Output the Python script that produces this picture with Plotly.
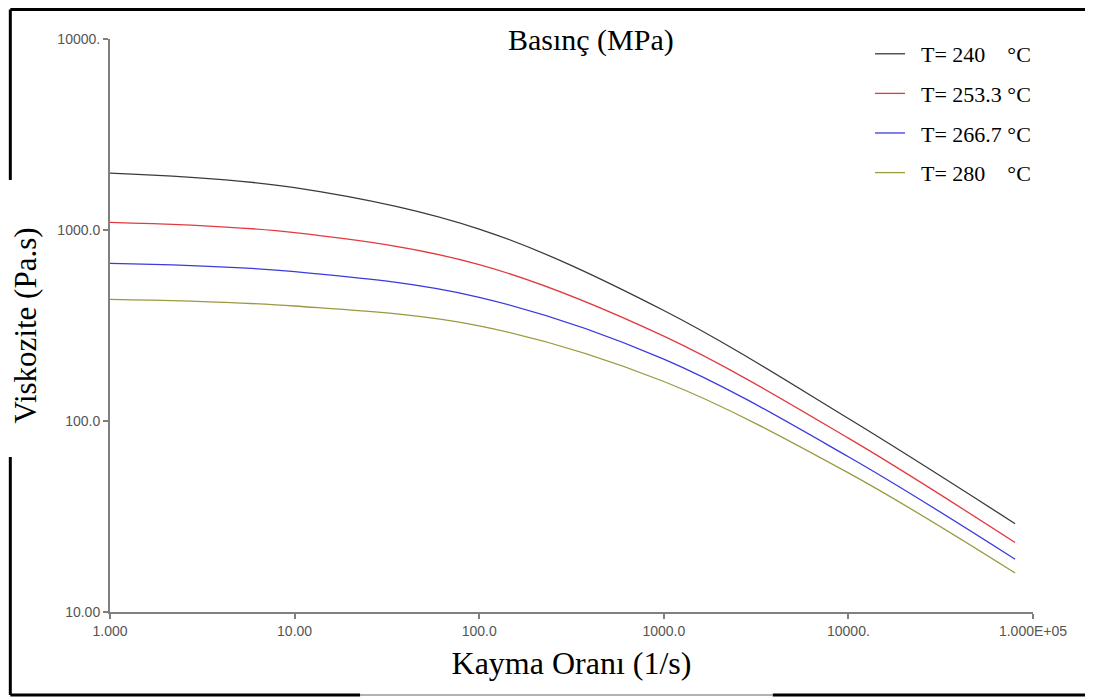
import plotly.graph_objects as go

# Shear rate (1/s)
shear_rate = [1, 10, 100, 1000, 10000, 80000]

# Viscosity (Pa.s) per temperature
visc_240 = [1985, 1668, 1012, 379, 103, 29.0]
visc_253 = [1097, 969, 659, 278, 81.3, 23.1]
visc_267 = [669, 606, 444, 211, 65.0, 18.9]
visc_280 = [433, 400, 315, 161, 53.5, 16.0]

nb = "\u00a0"
series_names = [nb * 2 + "T= 240" + nb * 4 + "°C", nb * 2 + "T= 253.3 °C",
                nb * 2 + "T= 266.7 °C", nb * 2 + "T= 280" + nb * 4 + "°C"]
series_vals = [visc_240, visc_253, visc_267, visc_280]
series_colors = ["#3a3a3a", "#e23a3f", "#3a3ae0", "#9a9a40"]

x_tickvals = [1, 10, 100, 1000, 10000, 100000]
x_ticktext = ["1.000", "10.00", "100.0", "1000.0", "10000.", "1.000E+05"]
y_tickvals = [10, 100, 1000, 10000]
y_ticktext = ["10.00", "100.0", "1000.0", "10000."]

serif = "Liberation Serif, Times New Roman, serif"

fig = go.Figure()
for i, (name, vals, col) in enumerate(zip(series_names, series_vals, series_colors)):
    fig.add_trace(go.Scatter(
        x=shear_rate, y=vals, mode="lines", name=name,
        line=dict(color=col, width=1.3, shape="spline", smoothing=1.0),
        legendgroup=f"g{i}",
    ))

axis_common = dict(
    type="log", showgrid=False, zeroline=False, automargin=False,
    showline=True, linecolor="#808080", linewidth=2,
    ticks="outside", ticklen=5, tickcolor="#808080", tickwidth=1.5,
    tickfont=dict(family="Liberation Sans, Arial, sans-serif", size=14, color="#555555"),
    mirror=False,
)

fig.update_layout(
    width=1085, height=689,
    paper_bgcolor="white", plot_bgcolor="white",
    margin=dict(l=102, r=60, t=31, b=85, autoexpand=False),
    title=dict(text="Basınç (MPa)", x=0.521, xref="paper", xanchor="center",
               y=0.9536, yanchor="middle",
               font=dict(family=serif, size=30, color="black")),
    xaxis=dict(**axis_common, range=[0, 5], tickvals=x_tickvals, ticktext=x_ticktext,
               title=dict(text="Kayma Oranı (1/s)", standoff=14,
                          font=dict(family=serif, size=32, color="black"))),
    yaxis=dict(**axis_common, range=[1, 4], tickvals=y_tickvals, ticktext=y_ticktext,
               title=dict(text="Viskozite (Pa.s)", standoff=22,
                          font=dict(family=serif, size=31, color="black"))),
    legend=dict(x=0.8234, y=1.0105, xanchor="left", yanchor="top", bgcolor="rgba(0,0,0,0)",
                font=dict(family=serif, size=22, color="black"),
                tracegroupgap=8),
    showlegend=True,
)

# outer frame lines (paper coordinates)
frame = dict(type="line", xref="paper", yref="paper", line=dict(color="black", width=3))
fig.add_shape(**frame, x0=-0.108, x1=1.07, y0=1.0515, y1=1.0515)
fig.add_shape(**frame, x0=-0.108, x1=-0.108, y0=1.0515, y1=0.754)
fig.add_shape(**frame, x0=-0.108, x1=-0.108, y0=0.2705, y1=-0.1449)
fig.add_shape(**frame, x0=-0.108, x1=0.271, y0=-0.1449, y1=-0.1449)
fig.add_shape(**frame, x0=0.718, x1=1.07, y0=-0.1449, y1=-0.1449)
fig.add_shape(type="line", xref="paper", yref="paper", x0=0.271, x1=0.718, y0=-0.1449, y1=-0.1449,
              line=dict(color="#999999", width=1.5))
fig.add_shape(type="line", xref="paper", yref="paper", x0=1.0618, x1=1.0618, y0=-0.1449, y1=1.0515,
              line=dict(color="#bbbbbb", width=1))

fig.write_html("out.html")
